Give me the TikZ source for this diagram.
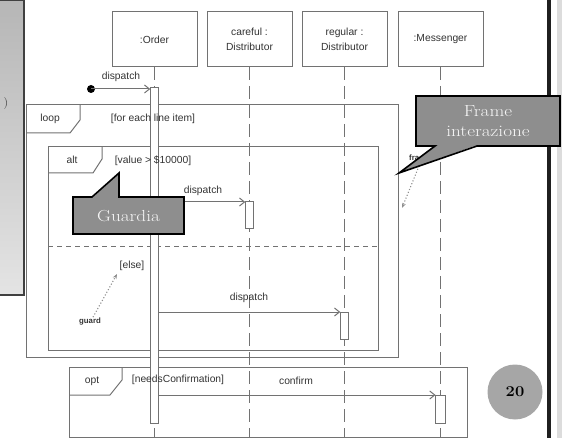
\documentclass[tikz,border=0pt]{standalone}
\usepackage{fontspec}
\usepackage{graphicx}
\newfontfamily\umlsans{Liberation Sans}
\usetikzlibrary{arrows.meta}

% wide setting for the note texts
\newcommand\widetxt[1]{\scalebox{1.2}[1]{#1}}

\definecolor{umlline}{HTML}{727272}
\definecolor{umltext}{HTML}{333333}
\definecolor{calloutgray}{HTML}{8E8E8E}
\definecolor{badgegray}{HTML}{A6A6A6}
\definecolor{panelTop}{HTML}{B6B6B6}
\definecolor{panelBottom}{HTML}{E4E4E4}
\definecolor{stripgray}{HTML}{DCDCDC}

\tikzset{
  umlstroke/.style={draw=umlline, line width=1pt},
  headbox/.style={umlstroke, fill=white, minimum width=85pt, minimum height=55pt,
    inner sep=0pt, outer sep=0pt, align=center, text=umltext,
    font=\umlsans\fontsize{10.3}{14.5}\selectfont},
  lifeline/.style={draw=umlline, line width=1pt, dash pattern=on 13pt off 6pt},
  actbar/.style={umlstroke, fill=white, minimum width=8.5pt, inner sep=0pt, outer sep=0pt},
  msg/.style={draw=umlline, line width=1pt, -{Straight Barb[length=5pt,width=8pt]}},
  lbl/.style={font=\umlsans\fontsize{10.3}{11}\selectfont, text=umltext, inner sep=1pt},
  framebox/.style={draw=umlline, line width=1pt},
  altsep/.style={draw=umlline, line width=1pt, dash pattern=on 5pt off 4pt},
  hint/.style={draw=umlline!80, line width=1.1pt, dotted, -{Stealth[length=5pt,width=4pt]}},
  hintlbl/.style={font=\umlsans\bfseries\fontsize{7.8}{9}\selectfont, text=umltext, inner sep=1pt},
  callfill/.style={fill=calloutgray},
  callline/.style={draw=black, line width=1.6pt, line join=miter},
  calltext/.style={text=white!96!black, align=center, inner sep=0pt,
    font=\fontsize{16}{20}\selectfont},
}

\begin{document}
\begin{tikzpicture}[x=1pt, y=-1pt]
  \useasboundingbox (0,0) rectangle (562,438);

  % side panel on the left
  \shade[top color=panelTop, bottom color=panelBottom] (0,0) rectangle (24,295);
  \draw[line width=1.2pt, draw=black!75] (0,0.6) -- (24,0.6) -- (24,295) -- (0,295);
  \node[font=\fontsize{12}{12}\selectfont, text=black!75] (paren) at (6,104) {)};

  % right border of the slide
  \fill[stripgray] (556.5,0) rectangle (562,438);
  \draw[line width=3.5pt, draw=black!88] (549,0) -- (549,438);

  % combined fragment outlines
  \draw[framebox] (26,105) rectangle (398,357);
  \draw[framebox] (26,133) -- (70,133) -- (80,120) -- (80,105);
  \draw[framebox] (48,147) rectangle (378,350);
  \draw[framebox] (48,173) -- (93,173) -- (102,159) -- (102,147);
  \draw[altsep] (48,247) -- (378,247);
  \draw[framebox] (69,367) -- (467,367) -- (467,437) -- (69,437) -- cycle;
  \draw[framebox] (69,395) -- (110,395) -- (122,380) -- (122,367);

  % lifeline heads
  \node[headbox, anchor=north west] (order)     at (112,12)  {:Order};
  \node[headbox, anchor=north west] (careful)   at (207,12)  {careful :\\Distributor};
  \node[headbox, anchor=north west] (regular)   at (302,12)  {regular :\\Distributor};
  \node[headbox, anchor=north west] (messenger) at (398,12)  {:Messenger};

  % lifelines
  \coordinate (floor) at (0,438);
  \foreach \obj in {order,careful,regular,messenger}
    \draw[lifeline] (\obj.south) -- (\obj.south |- floor);

  % activation bars
  \node[actbar, minimum height=335pt, anchor=north] (ordbar) at (order.south |- 0,88) {};
  \node[actbar, minimum height=27pt, anchor=north] (carbar) at (careful.south |- 0,202) {};
  \node[actbar, minimum height=27pt, anchor=north] (regbar) at (regular.south |- 0,312) {};
  \node[actbar, minimum width=10pt, minimum height=28pt, anchor=north] (mesbar) at (messenger.south |- 0,395) {};

  % fragment operators and guards
  \node[lbl] (looptag) at (50,119) {loop};
  \node[lbl] (loopguard) at (153,119) {[for each line item]};
  \node[lbl] (alttag) at (72,160) {alt};
  \node[lbl] (altguard) at (153,161) {[value > \$10000]};
  \node[lbl] (elseguard) at (132,266) {[else]};
  \node[lbl] (opttag) at (92,381) {opt};
  \node[lbl] (optguard) at (178,380) {[needsConfirmation]};

  % found message
  \fill[black] (91,89) circle (4pt);
  \coordinate (start) at (91,89);
  \draw[msg] (start) -- (ordbar.north west |- start);
  \node[lbl] (m0) at (121,77) {dispatch};

  % messages
  \draw[msg] (ordbar.east |- carbar.north) -- (carbar.north west);
  \node[lbl] (m1) at (203,191) {dispatch};
  \draw[msg] (ordbar.east |- regbar.north) -- (regbar.north west);
  \node[lbl] (m2) at (249,298) {dispatch};
  \draw[msg] (ordbar.east |- mesbar.north) -- (mesbar.north west);
  \node[lbl] (m3) at (296,381) {confirm};

  % hint arrows
  \node[hintlbl] (guardlbl) at (90,322) {guard};
  \coordinate (guardtip) at (117,274);
  \draw[hint] (guardlbl.north) ++(3,0) -- (guardtip);
  \node[hintlbl, anchor=west] (framelbl) at (408,158) {fra};
  \coordinate (frametip) at (402,208);
  \draw[hint] (419,166) -- (frametip);

  % callout: Guardia
  \fill[callfill] (73,197) rectangle (184,234);
  \fill[callfill] (92,198) -- (119,173) -- (119,198) -- cycle;
  \draw[callline] (119,197) -- (184,197) -- (184,234) -- (73,234) -- (73,197)
    -- (92,197) -- (119,173) -- cycle;
  \node[calltext] (guardia) at (128.5,216) {\widetxt{Guardia}};

  % callout: Frame interazione
  \fill[callfill] (416,96) rectangle (560,146);
  \fill[callfill] (435,145) -- (399,173) -- (477,145) -- cycle;
  \draw[callline] (416,96) -- (560,96) -- (560,146) -- (477,146) -- (399,173)
    -- (435,146) -- (416,146) -- cycle;
  \node[calltext] (frameint) at (488,121) {\widetxt{Frame}\\\widetxt{interazione}};

  % page number badge
  \fill[badgegray] (515,392) circle (27.5pt);
  \node[font=\fontsize{15}{15}\selectfont\bfseries] (pagenum) at (515,392) {\scalebox{1.1}[1]{20}};
\end{tikzpicture}
\end{document}
